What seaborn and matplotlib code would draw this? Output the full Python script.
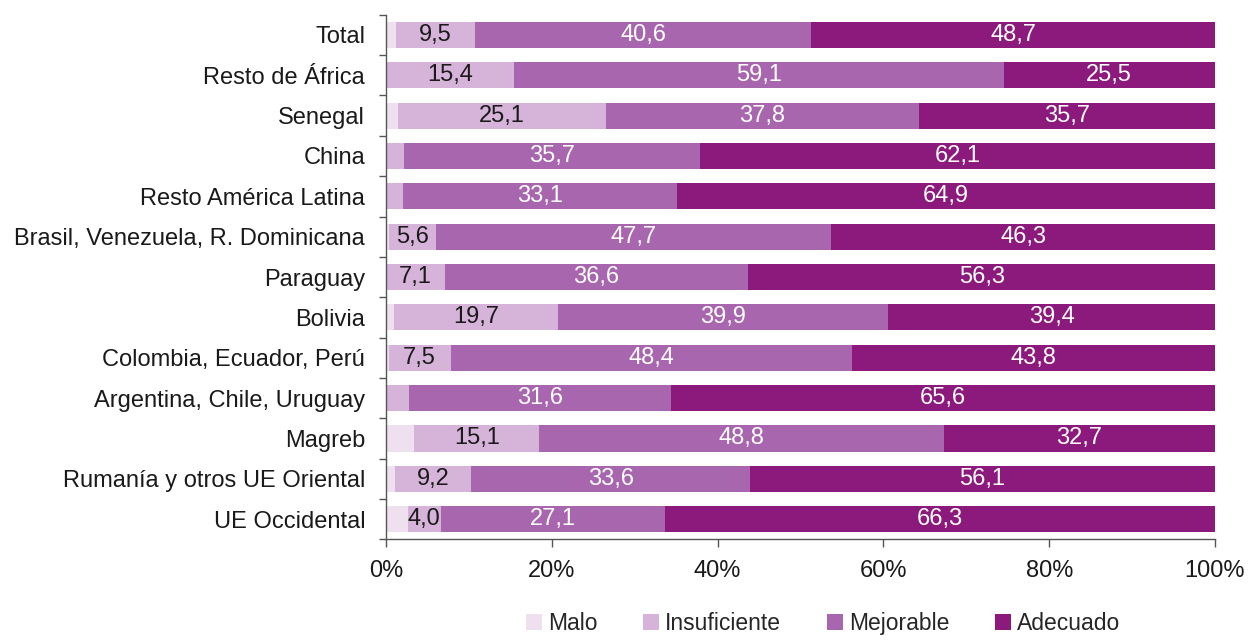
import matplotlib.pyplot as plt
import numpy as np
import pandas as pd
import seaborn as sns

# Datos (porcentajes)
categorias = ['Total', 'Resto de África', 'Senegal', 'China', 'Resto América Latina',
              'Brasil, Venezuela, R. Dominicana', 'Paraguay', 'Bolivia',
              'Colombia, Ecuador, Perú', 'Argentina, Chile, Uruguay', 'Magreb',
              'Rumanía y otros UE Oriental', 'UE Occidental']
malo = [1.2, 0.0, 1.4, 0.0, 0.0, 0.4, 0.0, 1.0, 0.3, 0.0, 3.4, 1.1, 2.6]
insuficiente = [9.5, 15.4, 25.1, 2.2, 2.0, 5.6, 7.1, 19.7, 7.5, 2.8, 15.1, 9.2, 4.0]
mejorable = [40.6, 59.1, 37.8, 35.7, 33.1, 47.7, 36.6, 39.9, 48.4, 31.6, 48.8, 33.6, 27.1]
adecuado = [48.7, 25.5, 35.7, 62.1, 64.9, 46.3, 56.3, 39.4, 43.8, 65.6, 32.7, 56.1, 66.3]

series = ['Malo', 'Insuficiente', 'Mejorable', 'Adecuado']
colores = ['#efe0ef', '#d6b3d8', '#a866af', '#8c1a7c']
color_texto = [None, '#1a1a1a', 'white', 'white']

df = pd.DataFrame({'cat': categorias, 'Malo': malo, 'Insuficiente': insuficiente,
                   'Mejorable': mejorable, 'Adecuado': adecuado})
acum = df[series].cumsum(axis=1)

sns.set_style('white')
plt.rcParams['font.family'] = ['Liberation Sans', 'DejaVu Sans']

fig, ax = plt.subplots(figsize=(12.51, 6.42), dpi=100)
fig.subplots_adjust(left=0.3086, right=0.9712, top=0.977, bottom=0.16)

# Barras apiladas: se dibuja el acumulado de mayor a menor
for s, c in reversed(list(zip(series, colores))):
    sns.barplot(x=acum[s], y=df['cat'], color=c, width=0.65, ax=ax,
                saturation=1, linewidth=0, label=s)
handles, labels = ax.get_legend_handles_labels()
if ax.get_legend() is not None:
    ax.get_legend().remove()

# Etiquetas de valor
for j, s in enumerate(series):
    if color_texto[j] is None:
        continue
    for i, v in enumerate(df[s]):
        if v >= 3.5:
            centro = acum[s].iloc[i] - v / 2
            ax.text(centro, i, f'{v:.1f}'.replace('.', ','), ha='center', va='center',
                    fontsize=17, color=color_texto[j])

ax.set_xlim(0, 100)
ax.set_ylim(12.5, -0.5)
ax.set_xticks(np.arange(0, 101, 20))
ax.set_xticklabels([f'{t}%' for t in range(0, 101, 20)])
ax.set_xlabel('')
ax.set_ylabel('')
ax.set_yticks(np.arange(-0.5, 13, 1), minor=True)
ax.tick_params(axis='y', which='major', length=0, pad=15, labelsize=17, colors='#1a1a1a')
ax.tick_params(axis='y', which='minor', length=5, width=1, color='#555555', left=True)
ax.tick_params(axis='x', length=6, width=1, color='#555555', pad=9, labelsize=17,
               labelcolor='#1a1a1a', bottom=True)
for sp in ['top', 'right']:
    ax.spines[sp].set_visible(False)
for sp in ['left', 'bottom']:
    ax.spines[sp].set_color('#555555')
    ax.spines[sp].set_linewidth(1)

# Leyenda en orden original
orden = [labels.index(s) for s in series]
fig.legend([handles[k] for k in orden], series, loc='lower center', ncol=4,
           frameon=False, fontsize=16.5, handlelength=0.7, handleheight=0.7,
           handletextpad=0.25, columnspacing=2.0, bbox_to_anchor=(0.658, -0.022))

plt.savefig('out.png', dpi=100)
